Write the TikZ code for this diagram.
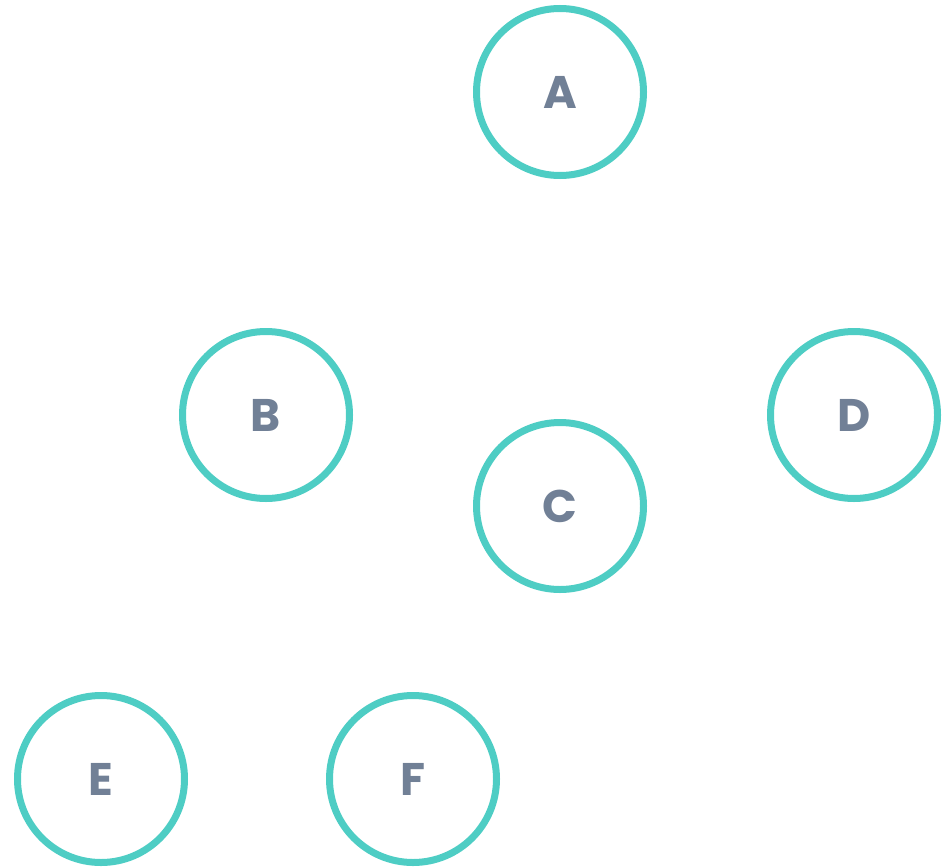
\documentclass[tikz,border=0pt]{standalone}
\usepackage{fontspec}
\setmainfont{Poppins}
\usepackage{tikz}
\usetikzlibrary{positioning}

\definecolor{ringteal}{HTML}{4ECDC4}
\definecolor{labelgrey}{HTML}{718096}

\begin{document}
\begin{tikzpicture}[
  font=\fontsize{26}{30}\selectfont\bfseries,
  vertex/.style={circle, draw=ringteal, line width=0.14cm, minimum size=3.34cm, inner sep=0pt, text=labelgrey}
]

%% ---------- canvas (950 x 866 px, 1px = 0.02cm) ----------
\useasboundingbox (0,0) rectangle (19,-17.32);

%% ---------- top row ----------
\node[vertex] (a) at (11.20,-1.84) {A};

%% ---------- middle row ----------
\node[vertex] (b) at (5.32,-8.30)  {B};
\node[vertex] (c) at (11.20,-10.12) {C};
\node[vertex] (d) at (17.08,-8.30) {D};

%% ---------- bottom row (cut by the lower edge) ----------
\node[vertex] (e) at (2.02,-15.58) {E};
\node[vertex] (f) at (8.26,-15.58) {F};

\end{tikzpicture}
\end{document}
